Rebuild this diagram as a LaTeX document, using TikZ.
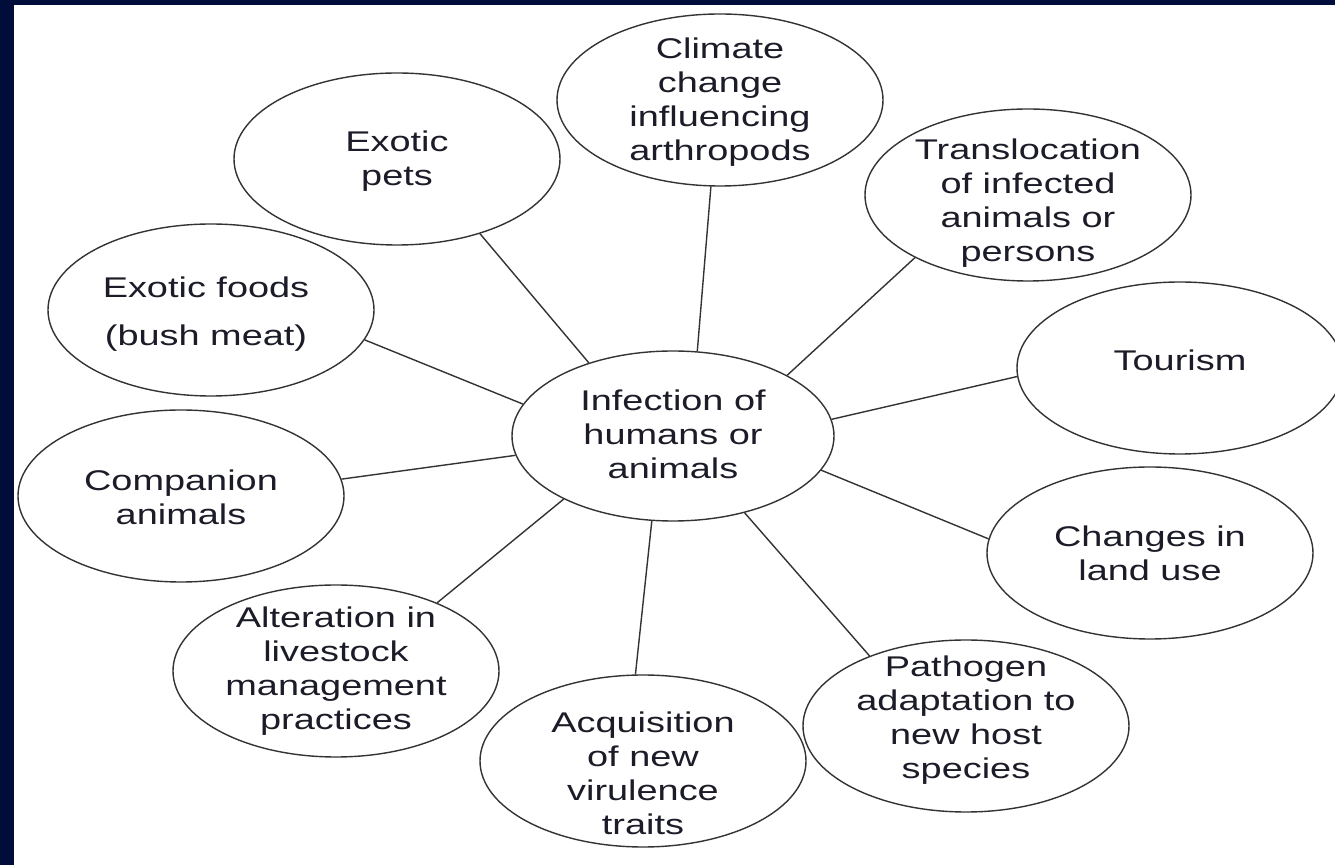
\documentclass[tikz,border=0pt]{standalone}
\usepackage{fontspec}
\setmainfont{Liberation Sans}[FakeStretch=1.33]
\usetikzlibrary{shapes.geometric}
\definecolor{navy}{HTML}{000D3A}
\definecolor{edge}{HTML}{333333}
\definecolor{ink}{HTML}{1C1C28}
\begin{document}
\begin{tikzpicture}[x=0.5pt,y=-0.5pt,
  bub/.style={ellipse, draw=edge, line width=0.7pt, fill=white,
              minimum width=163pt, minimum height=86pt, inner sep=0pt},
  hubbub/.style={bub, minimum width=161pt, minimum height=85pt},
  lbl/.style={align=center, text=ink, inner sep=0pt,
              font=\fontsize{14.25}{17}\selectfont},
  link/.style={draw=edge, line width=0.7pt}]
\useasboundingbox (0,0) rectangle (1335,865);
\clip (0,0) rectangle (1335,865);
\fill[white] (0,0) rectangle (1335,865);

% ellipses
\node[hubbub] (hub) at (673,436) {};
\node[bub] (clim) at (720,100) {};
\node[bub] (pets) at (397,159) {};
\node[bub] (trans) at (1028,195) {};
\node[bub] (foods) at (211,310) {};
\node[bub] (tour) at (1180,368) {};
\node[bub] (comp) at (181,496) {};
\node[bub] (land) at (1150,553) {};
\node[bub] (alter) at (336,671) {};
\node[bub] (path) at (966,726) {};
\node[bub] (acq) at (643,761) {};

% labels
\node[lbl] (hub-t) at (673,434) {Infection of\\humans or\\animals};
\node[lbl] (clim-t) at (720,102) {Climate\\change\\influencing\\arthropods};
\node[lbl] (pets-t) at (397,161) {Exotic\\pets};
\node[lbl] (trans-t) at (1028,203) {Translocation\\of infected\\animals or\\persons};
\node[lbl] (foods-t) at (206,314) {Exotic foods\\[7pt](bush meat)};
\node[lbl] (tour-t) at (1180,360) {Tourism};
\node[lbl] (comp-t) at (181,497) {Companion\\animals};
\node[lbl] (land-t) at (1150,553) {Changes in\\land use};
\node[lbl] (alter-t) at (336,671) {Alteration in\\livestock\\management\\practices};
\node[lbl] (path-t) at (966,720) {Pathogen\\adaptation to\\new host\\species};
\node[lbl] (acq-t) at (643,773) {Acquisition\\of new\\virulence\\traits};

% connectors
\draw[link] (hub.139) -- (pets.-42);
\draw[link] (hub.74) -- (clim.-96);
\draw[link] (hub.28) -- (trans.-151);
\draw[link] (hub.168) -- (foods.-11);
\draw[link] (hub.6) -- (tour.183);
\draw[link] (hub.187) -- (comp.6);
\draw[link] (hub.-13) -- (land.175);
\draw[link] (hub.-150) -- (alter.34);
\draw[link] (hub.-47) -- (path.144);
\draw[link] (hub.-104) -- (acq.95);

% frame
\fill[navy] (0,0) rectangle (14,865);
\fill[navy] (0,0) rectangle (1335,5);
\end{tikzpicture}
\end{document}
